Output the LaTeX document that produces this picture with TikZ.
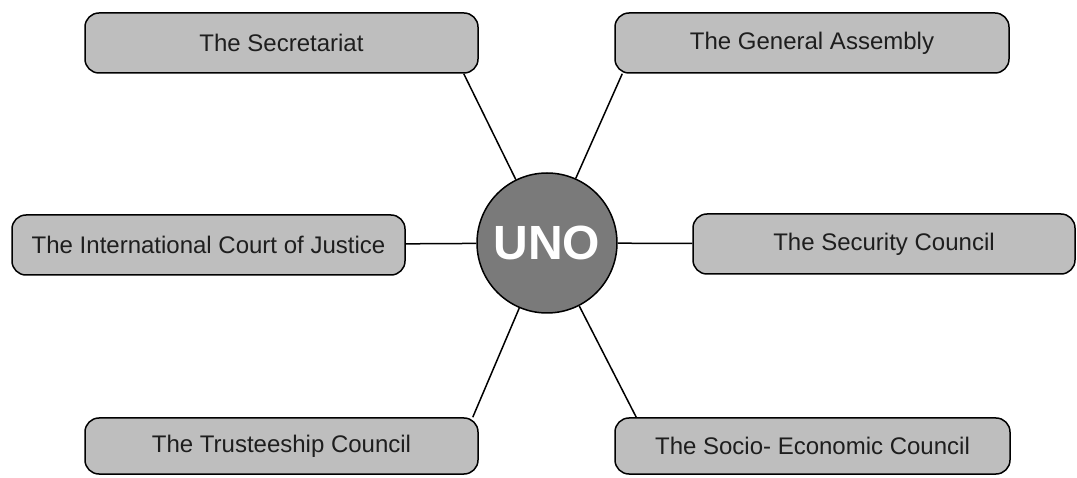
\documentclass[tikz,border=0pt]{standalone}
\usepackage{fontspec}
\setmainfont{Liberation Sans}
\usetikzlibrary{positioning}

\definecolor{boxgray}{RGB}{190,190,190}
\definecolor{unogray}{RGB}{122,122,122}
\definecolor{textdark}{RGB}{30,30,30}

\begin{document}
\begin{tikzpicture}[x=1pt, y=1pt,
		organ/.style={draw, line width=1.5pt, rounded corners=14pt, fill=boxgray,
			inner sep=0pt, minimum height=60pt, minimum width=393pt,
			text=textdark, font=\fontsize{24}{28}\selectfont},
		hub/.style={circle, draw, line width=1.5pt, fill=unogray, inner sep=0pt,
			minimum size=140pt, text=white, font=\fontsize{48}{54}\selectfont\bfseries},
		link/.style={line width=1.5pt}
	]
		\useasboundingbox (0,0) rectangle (1077,477);

		\node[hub] (uno) at (547,234) {UNO};

		\node[organ] (secr) at (281.5,434) {The Secretariat};
		\node[organ, minimum width=394pt] (ga) at (812,434) {The General Assembly};
		\node[organ] (icj) at (208.5,232) {The International Court of Justice};
		\node[organ, minimum width=382pt] (sc) at (884,233) {The Security Council};
		\node[organ, minimum height=56pt] (tc) at (281.5,31) {The Trusteeship Council};
		\node[organ, minimum height=56pt, minimum width=395pt] (ecosoc) at (812.5,31) {The Socio- Economic Council};

		\draw[link] ([xshift=-15pt]secr.south east) -- (uno);
		\draw[link] ([xshift=8pt]ga.south west) -- (uno);
		\draw[link] (icj) -- (uno);
		\draw[link] (uno) -- (sc);
		\draw[link] ([xshift=-6pt]tc.north east) -- (uno);
		\draw[link] ([xshift=22pt]ecosoc.north west) -- (uno);
	\end{tikzpicture}
\end{document}
